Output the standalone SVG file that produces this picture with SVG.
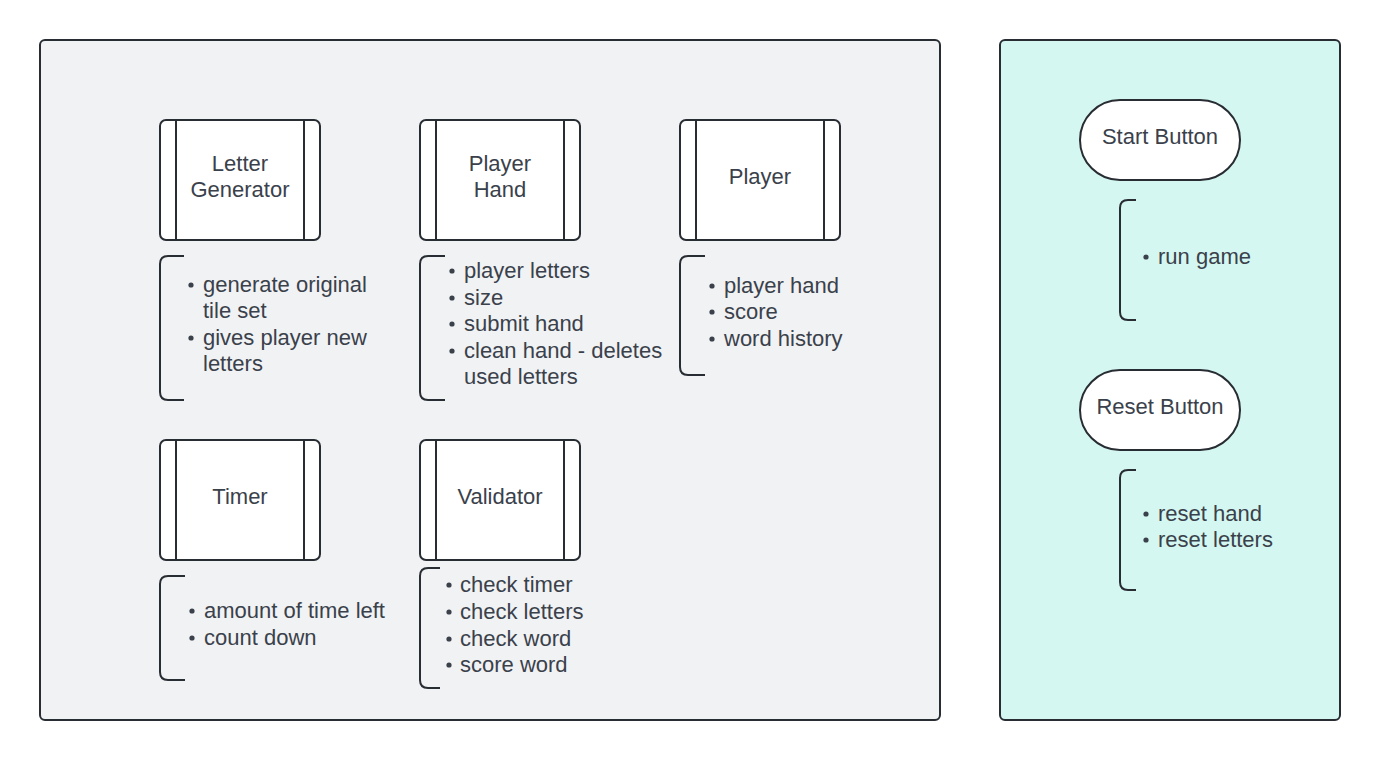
<svg xmlns="http://www.w3.org/2000/svg" width="1380" height="760" viewBox="0 0 1380 760">
<style>
text{font-family:"Liberation Sans",Arial,sans-serif;font-size:22px;fill:#3a414b}
.c{text-anchor:middle}
.box{fill:#ffffff;stroke:#282c33;stroke-width:2}
.ln{fill:none;stroke:#282c33;stroke-width:2}
.br{fill:none;stroke:#282c33;stroke-width:2;stroke-linejoin:round}
.dot{fill:#3a414b}
</style>
<rect x="1" y="1" width="1378" height="758" fill="#ffffff"/>
<g id="container-left"><rect x="40" y="40" width="900" height="680" rx="5" fill="#f1f2f4" stroke="#282c33" stroke-width="2"/></g>
<g id="container-right"><rect x="1000" y="40" width="340" height="680" rx="5" fill="#d5f7f1" stroke="#282c33" stroke-width="2"/></g>

<g id="letter-generator">
<rect class="box" x="160" y="120" width="160" height="120" rx="6"/>
<line class="ln" x1="176" y1="120" x2="176" y2="240"/><line class="ln" x1="304" y1="120" x2="304" y2="240"/>
<text class="c" x="240" y="171">Letter</text><text class="c" x="240" y="197">Generator</text>
</g>
<g id="letter-generator-notes">
<path class="br" d="M184,256 H168 Q160,256 160,264 V392 Q160,400 168,400 H184"/>
<circle class="dot" cx="191" cy="285" r="2.6"/><text x="203" y="292">generate original</text>
<text x="203" y="318">tile set</text>
<circle class="dot" cx="191" cy="338" r="2.6"/><text x="203" y="345">gives player new</text>
<text x="203" y="371">letters</text>
</g>

<g id="player-hand">
<rect class="box" x="420" y="120" width="160" height="120" rx="6"/>
<line class="ln" x1="436" y1="120" x2="436" y2="240"/><line class="ln" x1="564" y1="120" x2="564" y2="240"/>
<text class="c" x="500" y="171">Player</text><text class="c" x="500" y="197">Hand</text>
</g>
<g id="player-hand-notes">
<path class="br" d="M445,256 H428 Q420,256 420,264 V392 Q420,400 428,400 H445"/>
<circle class="dot" cx="452" cy="271" r="2.6"/><text x="464" y="278">player letters</text>
<circle class="dot" cx="452" cy="298" r="2.6"/><text x="464" y="305">size</text>
<circle class="dot" cx="452" cy="324" r="2.6"/><text x="464" y="331">submit hand</text>
<circle class="dot" cx="452" cy="351" r="2.6"/><text x="464" y="358">clean hand - deletes</text>
<text x="464" y="384">used letters</text>
</g>

<g id="player">
<rect class="box" x="680" y="120" width="160" height="120" rx="6"/>
<line class="ln" x1="696" y1="120" x2="696" y2="240"/><line class="ln" x1="824" y1="120" x2="824" y2="240"/>
<text class="c" x="760" y="184">Player</text>
</g>
<g id="player-notes">
<path class="br" d="M705,256 H688 Q680,256 680,264 V367 Q680,375 688,375 H705"/>
<circle class="dot" cx="712" cy="286" r="2.6"/><text x="724" y="293">player hand</text>
<circle class="dot" cx="712" cy="312" r="2.6"/><text x="724" y="319">score</text>
<circle class="dot" cx="712" cy="339" r="2.6"/><text x="724" y="346">word history</text>
</g>

<g id="timer">
<rect class="box" x="160" y="440" width="160" height="120" rx="6"/>
<line class="ln" x1="176" y1="440" x2="176" y2="560"/><line class="ln" x1="304" y1="440" x2="304" y2="560"/>
<text class="c" x="240" y="504">Timer</text>
</g>
<g id="timer-notes">
<path class="br" d="M185,576 H168 Q160,576 160,584 V672 Q160,680 168,680 H185"/>
<circle class="dot" cx="192" cy="611" r="2.6"/><text x="204" y="618">amount of time left</text>
<circle class="dot" cx="192" cy="638" r="2.6"/><text x="204" y="645">count down</text>
</g>

<g id="validator">
<rect class="box" x="420" y="440" width="160" height="120" rx="6"/>
<line class="ln" x1="436" y1="440" x2="436" y2="560"/><line class="ln" x1="564" y1="440" x2="564" y2="560"/>
<text class="c" x="500" y="504">Validator</text>
</g>
<g id="validator-notes">
<path class="br" d="M440,568 H428 Q420,568 420,576 V680 Q420,688 428,688 H440"/>
<circle class="dot" cx="449" cy="585" r="2.6"/><text x="460" y="592">check timer</text>
<circle class="dot" cx="449" cy="612" r="2.6"/><text x="460" y="619">check letters</text>
<circle class="dot" cx="449" cy="639" r="2.6"/><text x="460" y="646">check word</text>
<circle class="dot" cx="449" cy="665" r="2.6"/><text x="460" y="672">score word</text>
</g>

<g id="start-button">
<rect class="box" x="1080" y="100" width="160" height="80" rx="40"/>
<text class="c" x="1160" y="144">Start Button</text>
</g>
<g id="start-notes">
<path class="br" d="M1136,200 H1128 Q1120,200 1120,208 V312 Q1120,320 1128,320 H1136"/>
<circle class="dot" cx="1146" cy="257" r="2.6"/><text x="1158" y="264">run game</text>
</g>

<g id="reset-button">
<rect class="box" x="1080" y="370" width="160" height="80" rx="40"/>
<text class="c" x="1160" y="414">Reset Button</text>
</g>
<g id="reset-notes">
<path class="br" d="M1136,470 H1128 Q1120,470 1120,478 V582 Q1120,590 1128,590 H1136"/>
<circle class="dot" cx="1146" cy="514" r="2.6"/><text x="1158" y="521">reset hand</text>
<circle class="dot" cx="1146" cy="540" r="2.6"/><text x="1158" y="547">reset letters</text>
</g>
<g id="connectors"></g>
</svg>
